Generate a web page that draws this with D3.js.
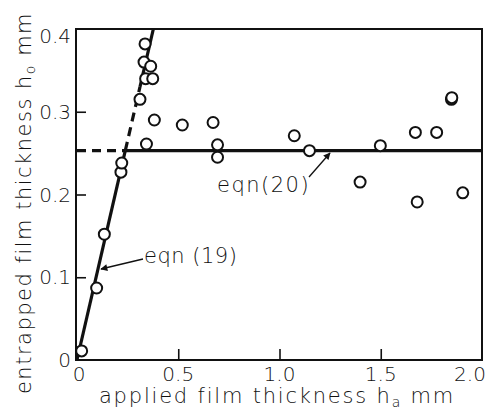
<!doctype html>
<html lang="en">
<head>
<meta charset="UTF-8">
<script src="https://cdnjs.cloudflare.com/ajax/libs/d3/7.8.5/d3.min.js"></script>
<title>entrapped film thickness</title>
<style>
  body { margin: 0; background: #fff; }
  text { font-family: "DejaVu Sans", sans-serif; font-weight: 200; fill: #111; }
</style>
</head>
<body>
<div id="chart"></div>
<script>
// measured points: applied film thickness ha (mm) vs entrapped h0 (mm)
const ha = [0.023, 0.097, 0.135, 0.217, 0.221, 0.311, 0.336, 0.331, 0.364, 0.339, 0.374,
            0.382, 0.343, 0.520, 0.672, 0.694, 0.694, 1.073, 1.148, 1.398, 1.498,
            1.671, 1.680, 1.776, 1.849, 1.851, 1.905];
const h0 = [0.011, 0.087, 0.152, 0.227, 0.238, 0.315, 0.382, 0.360, 0.355, 0.340, 0.340,
            0.290, 0.261, 0.284, 0.287, 0.260, 0.245, 0.271, 0.253, 0.215, 0.259,
            0.275, 0.191, 0.275, 0.315, 0.317, 0.202];

const xTicks = [0, 0.5, 1.0, 1.5, 2.0];
const xTickLabels = ["0", "0.5", "1.0", "1.5", "2.0"];
const yTicks = [0, 0.1, 0.2, 0.3, 0.4];
const yTickLabels = ["0", "0.1", "0.2", "0.3", "0.4"];

// eqn (19): h0 = k*ha ; eqn (20): h0 = const
const eq19Slope = 1.061;
const eq20Level = 0.253;
const eq19DashTop = 0.33;

const width = 487, height = 409;
const svg = d3.select("#chart").append("svg")
    .attr("width", width).attr("height", height);

const x = d3.scaleLinear().domain([0, 2]).range([77, 482]);
const y = d3.scaleLinear().domain([0, 0.4]).range([360, 29]);

// frame
svg.append("rect")
    .attr("x", x(0) - 1).attr("y", y(0.4))
    .attr("width", x(2) - x(0) + 1).attr("height", y(0) - y(0.4))
    .attr("fill", "none").attr("stroke", "#111").attr("stroke-width", 2);

// inward ticks
svg.append("g").attr("transform", `translate(0,${y(0)})`)
    .call(d3.axisTop(x).tickValues(xTicks.slice(1, -1)).tickSize(11).tickFormat(""))
    .call(g => g.select(".domain").remove())
    .selectAll("line").attr("stroke", "#111").attr("stroke-width", 1.6);
svg.append("g").attr("transform", `translate(${x(0) - 1},0)`)
    .call(d3.axisRight(y).tickValues(yTicks.slice(1, -1)).tickSize(10).tickFormat(""))
    .call(g => g.select(".domain").remove())
    .selectAll("line").attr("stroke", "#111").attr("stroke-width", 1.6);

// tick labels
svg.append("g").selectAll("text").data(xTicks).join("text")
    .attr("x", (d, i) => x(d) + (i === 0 ? 2 : i === xTicks.length - 1 ? -12 : 0))
    .attr("y", 381)
    .attr("text-anchor", "middle")
    .attr("font-size", 20)
    .text((d, i) => xTickLabels[i]);
svg.append("g").selectAll("text").data(yTicks).join("text")
    .attr("x", 71)
    .attr("y", (d, i) => y(d) + (i === yTicks.length - 1 ? 14 : 7))
    .attr("text-anchor", "end")
    .attr("font-size", 20)
    .text((d, i) => yTickLabels[i]);

// axis titles
const xt = svg.append("text")
    .attr("x", 277).attr("y", 403)
    .attr("text-anchor", "middle")
    .attr("font-size", 21)
    .attr("letter-spacing", 1.8);
xt.append("tspan").text("applied film thickness h");
xt.append("tspan").attr("font-size", 14).attr("dy", 4).text("a");
xt.append("tspan").attr("dy", -4).text(" mm");

const yt = svg.append("text")
    .attr("transform", "translate(31,203) rotate(-90)")
    .attr("text-anchor", "middle")
    .attr("font-size", 21)
    .attr("letter-spacing", 1.5);
yt.append("tspan").text("entrapped film thickness h");
yt.append("tspan").attr("font-size", 14).attr("dy", 4).text("o");
yt.append("tspan").attr("dy", -4).text(" mm");

// eqn lines
const xCross = eq20Level / eq19Slope;
const line = d3.line().x(d => x(d[0])).y(d => y(d[1]));
const seg = (pts, dashed) => svg.append("path")
    .attr("d", line(pts))
    .attr("fill", "none").attr("stroke", "#111").attr("stroke-width", 3.2)
    .attr("stroke-dasharray", dashed ? "9,6" : null);

seg([[0, 0], [xCross, eq20Level]], false);
seg([[xCross, eq20Level], [eq19DashTop / eq19Slope, eq19DashTop]], true);
seg([[eq19DashTop / eq19Slope, eq19DashTop], [0.4 / eq19Slope, 0.4]], false);
seg([[0, eq20Level], [xCross, eq20Level]], true);
seg([[xCross, eq20Level], [2, eq20Level]], false);

// points
svg.append("g").selectAll("circle").data(ha).join("circle")
    .attr("cx", d => x(d))
    .attr("cy", (d, i) => y(h0[i]))
    .attr("r", 5.5)
    .attr("fill", "#fff").attr("stroke", "#111").attr("stroke-width", 2);

// annotations
svg.append("defs").append("marker")
    .attr("id", "arr").attr("viewBox", "0 0 10 10")
    .attr("refX", 9).attr("refY", 5)
    .attr("markerWidth", 9).attr("markerHeight", 7)
    .attr("markerUnits", "userSpaceOnUse")
    .attr("orient", "auto")
    .append("path").attr("d", "M0,0 L10,5 L0,10 z").attr("fill", "#111");

svg.append("line")
    .attr("x1", 143).attr("y1", 259).attr("x2", 101).attr("y2", 269)
    .attr("stroke", "#111").attr("stroke-width", 1.3).attr("marker-end", "url(#arr)");
svg.append("text").attr("x", 144).attr("y", 263).attr("font-size", 21)
    .attr("letter-spacing", 0.5).text("eqn (19)");

svg.append("line")
    .attr("x1", 309).attr("y1", 177).attr("x2", 330).attr("y2", 153)
    .attr("stroke", "#111").attr("stroke-width", 1.3).attr("marker-end", "url(#arr)");
svg.append("text").attr("x", 217).attr("y", 192).attr("font-size", 21)
    .attr("letter-spacing", 1.5).text("eqn(20)");
</script>
</body>
</html>
